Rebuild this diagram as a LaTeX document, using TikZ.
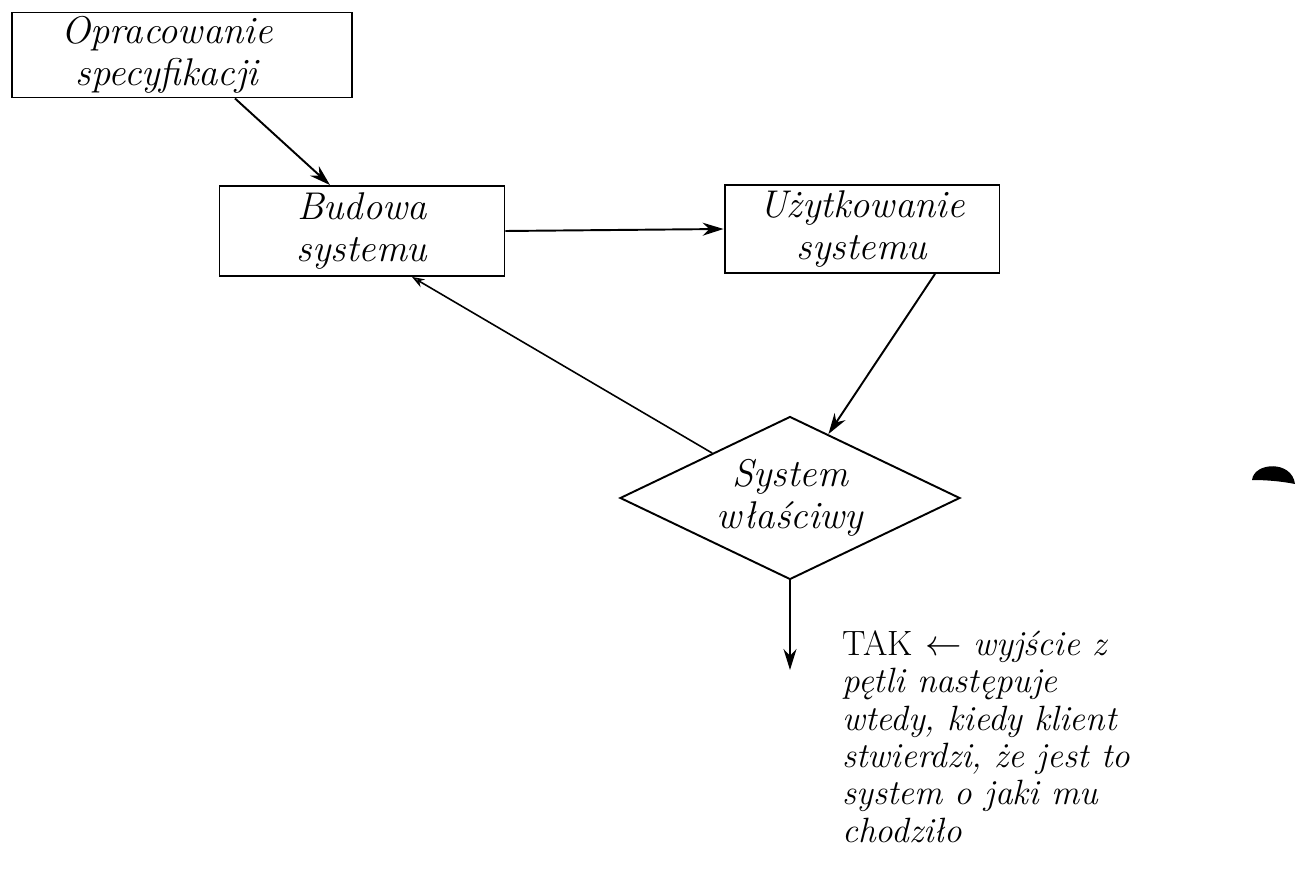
\documentclass[tikz,border=0pt]{standalone}
\usepackage{fontspec}
\usetikzlibrary{shapes.geometric,arrows.meta,calc}
\newcommand\handfont{\fontsize{22}{24}\selectfont\itshape}
\newcommand\notefont{\fontsize{20}{21.3}\selectfont\itshape}
\tikzset{
  box/.style={draw, line width=1.1pt, inner sep=0pt, align=center, font=\handfont},
  arr/.style={line width=1.1pt, -{Stealth[length=0.42cm,width=0.26cm]}},
  arrsmall/.style={line width=0.9pt, -{Stealth[length=0.25cm,width=0.18cm,open]}}
}
\begin{document}
\begin{tikzpicture}[x=0.02cm,y=-0.02cm]
\useasboundingbox (0,0) rectangle (1302,871);
\node[box, minimum width=6.8cm, minimum height=1.7cm] (b1) at (182,55) {Opracowanie\hspace*{0.6cm}\\specyfikacji\hspace*{0.6cm}};
\node[box, minimum width=5.7cm, minimum height=1.8cm] (b2) at (362,231) {Budowa\\systemu};
\node[box, minimum width=5.5cm, minimum height=1.76cm] (b3) at (862,229) {Użytkowanie\\systemu};
\node[box, diamond, minimum width=6.8cm, minimum height=3.26cm, aspect=2.1] (d) at (790,498) {System\\właściwy};
\coordinate (out) at (790,670);
\draw[arr] ($(b1.south)+(53,0)$) -- ($(b2.north)+(-32,0)$);
\draw[arr] (b2.east) -- (b3.west);
\draw[arr] ($(b3.south)+(73,0)$) -- (d.59);
\draw[arrsmall] (d.150) -- ($(b2.south)+(50,0)$);
\draw[arr] (d.south) -- (out);
\node[anchor=north west, align=left, font=\notefont, inner sep=0pt] (note) at (842,630)
  {{\upshape TAK} $\leftarrow$ wyjście z\\pętli następuje\\wtedy, kiedy klient\\stwierdzi, że jest to\\system o jaki mu\\chodziło};
\fill (1252,480) .. controls (1254,462) and (1292,460) .. (1295,484) .. controls (1280,481) and (1265,480) .. (1252,480) -- cycle;
\end{tikzpicture}
\end{document}
